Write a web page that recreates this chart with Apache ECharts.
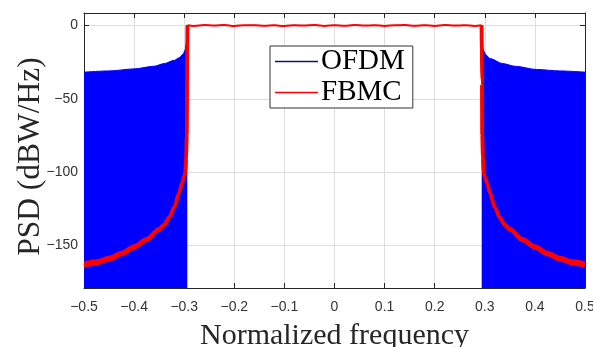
<!DOCTYPE html>
<html>
<head>
<meta charset="utf-8">
<script src="https://cdn.jsdelivr.net/npm/echarts@6/dist/echarts.min.js"></script>
<style>
  html, body { margin: 0; padding: 0; background: #fff; }
  #chart { width: 593px; height: 347px; }
</style>
</head>
<body>
<div id="chart"></div>
<script>
// y tick values (x ticks run -0.5 .. 0.5 by 0.1)
const yTicks = [-150, -100, -50, 0];

// OFDM sidelobe envelope (blue filled area), left and right
const ofdmLeftFreq = [-0.5, -0.45, -0.4, -0.36, -0.34, -0.32, -0.31, -0.302, -0.298, -0.296, -0.295, -0.2942, -0.2938];
const ofdmLeftPsd  = [-31.8, -31.0, -29.6, -27.8, -26.0, -23.8, -22.0, -19.5, -16.5, -12.5, -8.0, -3.0, 0.0];
const ofdmRightFreq = [0.2938, 0.2942, 0.2955, 0.297, 0.302, 0.31, 0.336, 0.36, 0.4036, 0.45, 0.5];
const ofdmRightPsd  = [0.0, -5.0, -12.0, -16.8, -20.0, -22.5, -26.0, -27.8, -30.0, -31.0, -31.8];

// in-band (both waveforms around 0 dB)
const bandFreq = [-0.2935, -0.28, -0.26, -0.24, -0.22, -0.2, -0.18, -0.16, -0.14, -0.12, -0.1, -0.08, -0.06, -0.04, -0.02,
                  0, 0.02, 0.04, 0.06, 0.08, 0.1, 0.12, 0.14, 0.16, 0.18, 0.2, 0.22, 0.24, 0.26, 0.28, 0.2935];
const fbmcBand = [0.1, -0.3, 0.3, -0.1, 0.4, -0.3, 0.1, 0.2, -0.2, 0.1, -0.4, 0.2, -0.1, 0.3, -0.3,
                  0.1, -0.2, 0.3, -0.1, 0.2, -0.3, 0.1, 0.3, -0.2, 0.1, -0.3, 0.3, -0.1, 0.2, -0.3, 0.1];
const ofdmBand = [0, -0.2, 0.1, -0.1, 0.2, -0.2, 0, 0.1, -0.1, 0.1, -0.2, 0.1, 0, 0.2, -0.1,
                  0.1, -0.1, 0.2, -0.1, 0.1, -0.2, 0, 0.2, -0.1, 0.1, -0.2, 0.1, -0.1, 0.1, -0.2, 0];

// FBMC out-of-band decay (upper / lower edge of the red band)
const fbmcLeftFreq  = [-0.5, -0.475, -0.45, -0.425, -0.4, -0.375, -0.35, -0.34, -0.33, -0.32, -0.31, -0.305, -0.3, -0.298, -0.296, -0.295, -0.2942, -0.2935];
const fbmcLeftUp    = [-162.0, -160.6, -158.2, -154.8, -150.3, -145.4, -138.5, -135.5, -130.7, -123.9, -114.0, -108.0, -103.0, -100.0, -90.0, -75.0, -40.0, 0.1];
const fbmcLeftLow   = [-164.0, -162.4, -159.8, -156.2, -151.7, -146.6, -139.5, -136.5, -131.3, -124.1, -114.0, -108.0, -103.0, -100.0, -90.0, -75.0, -40.0, 0.1];
const fbmcRightFreq = [0.2935, 0.2942, 0.295, 0.296, 0.298, 0.3, 0.305, 0.31, 0.32, 0.33, 0.34, 0.35, 0.375, 0.4, 0.425, 0.45, 0.475, 0.5];
const fbmcRightUp   = [0.1, -40.0, -75.0, -90.0, -100.0, -103.0, -108.0, -114.0, -123.9, -130.7, -135.5, -138.5, -145.4, -150.3, -154.8, -158.2, -160.6, -162.0];
const fbmcRightLow  = [0.1, -40.0, -75.0, -90.0, -100.0, -103.0, -108.0, -114.0, -124.1, -131.3, -136.5, -139.5, -146.6, -151.7, -156.2, -159.8, -162.4, -164.0];

function pairs(xs, ys) {
  return xs.map((x, i) => [x, ys[i]]);
}

const chart = echarts.init(document.getElementById('chart'), null, { renderer: 'canvas' });

const BLUE = '#0000ff';
const RED = '#ff0000';
const AXIS = '#262626';
const GRID = '#dedede';

const areaSeries = (data) => ({
  name: 'OFDM',
  type: 'line',
  data: data,
  symbol: 'none',
  smooth: 0.3,
  smoothMonotone: 'x',
  lineStyle: { color: BLUE, width: 1 },
  itemStyle: { color: BLUE },
  areaStyle: { color: BLUE, opacity: 1, origin: 'start' },
  z: 2
});
const redLine = (data, width) => ({
  name: 'FBMC',
  type: 'line',
  data: data,
  symbol: 'none',
  smooth: 0.3,
  smoothMonotone: 'x',
  lineStyle: { color: RED, width: width },
  itemStyle: { color: RED },
  z: 4
});

const option = {
  animation: false,
  grid: { left: 84, right: 8, top: 13, bottom: 59, containLabel: false, outerBoundsMode: 'none' },
  legend: {
    left: 270,
    top: 46,
    orient: 'vertical',
    data: [
      { name: 'OFDM', itemStyle: { color: '#10107a' }, lineStyle: { color: '#10107a' } },
      { name: 'FBMC', itemStyle: { color: RED }, lineStyle: { color: RED } }
    ],
    icon: 'rect',
    itemWidth: 43,
    itemHeight: 1.5,
    itemGap: 2,
    padding: [1, 8, 1, 5],
    backgroundColor: '#fff',
    borderColor: '#333',
    borderWidth: 1,
    textStyle: { fontFamily: 'Liberation Serif', fontSize: 29, color: '#000', padding: [0, 0, 0, -2] },
    z: 10
  },
  xAxis: [
    {
      type: 'value',
      min: -0.5,
      max: 0.5,
      interval: 0.1,
      name: 'Normalized frequency',
      nameLocation: 'middle',
      nameGap: 33,
      nameMoveOverlap: false,
      nameTextStyle: { fontFamily: 'Liberation Serif', fontSize: 30, color: '#262626' },
      axisLine: { show: true, onZero: false, lineStyle: { color: AXIS, width: 1 } },
      axisTick: { show: true, inside: true, length: 5, lineStyle: { color: AXIS } },
      axisLabel: {
        margin: 12,
        fontFamily: 'Liberation Sans',
        fontSize: 14,
        color: '#333',
        formatter: v => String(Math.round(v * 10) / 10).replace('-', '\u2212')
      },
      splitLine: { show: true, lineStyle: { color: GRID, width: 1 } }
    },
    {
      type: 'value',
      position: 'top',
      min: -0.5,
      max: 0.5,
      interval: 0.1,
      axisLine: { show: true, onZero: false, lineStyle: { color: AXIS, width: 1 } },
      axisTick: { show: true, inside: true, length: 5, lineStyle: { color: AXIS } },
      axisLabel: { show: false },
      splitLine: { show: false }
    }
  ],
  yAxis: [
    {
      type: 'value',
      min: -179,
      max: 8.5,
      name: 'PSD (dBW/Hz)',
      nameLocation: 'middle',
      nameGap: 37,
      nameMoveOverlap: false,
      nameTextStyle: { fontFamily: 'Liberation Serif', fontSize: 31.5, color: '#262626', padding: [0, 12, 0, 0] },
      axisLine: { show: true, onZero: false, lineStyle: { color: AXIS, width: 1 } },
      axisTick: { show: true, inside: true, length: 5, customValues: yTicks, lineStyle: { color: AXIS } },
      axisLabel: {
        margin: 6,
        fontFamily: 'Liberation Sans',
        fontSize: 14,
        color: '#333',
        customValues: yTicks,
        formatter: v => String(v).replace('-', '\u2212')
      },
      splitLine: { show: true, lineStyle: { color: GRID, width: 1 } }
    },
    {
      type: 'value',
      position: 'right',
      min: -179,
      max: 8.5,
      axisLine: { show: true, onZero: false, lineStyle: { color: AXIS, width: 1 } },
      axisTick: { show: true, inside: true, length: 5, customValues: yTicks, lineStyle: { color: AXIS } },
      axisLabel: { show: false },
      splitLine: { show: false }
    }
  ],
  series: [
    areaSeries(pairs(ofdmLeftFreq, ofdmLeftPsd)),
    areaSeries(pairs(ofdmRightFreq, ofdmRightPsd)),
    {
      name: 'OFDM',
      type: 'line',
      data: pairs(bandFreq, ofdmBand),
      symbol: 'none',
      lineStyle: { color: BLUE, width: 1 },
      z: 3
    },
    redLine(pairs(bandFreq, fbmcBand), 2),
    redLine(pairs(fbmcLeftFreq, fbmcLeftUp), 3.5),
    redLine(pairs(fbmcLeftFreq, fbmcLeftLow), 3.5),
    redLine(pairs(fbmcRightFreq, fbmcRightUp), 3.5),
    redLine(pairs(fbmcRightFreq, fbmcRightLow), 3.5)
  ]
};

chart.setOption(option);
window.addEventListener('resize', () => chart.resize());
</script>
</body>
</html>
